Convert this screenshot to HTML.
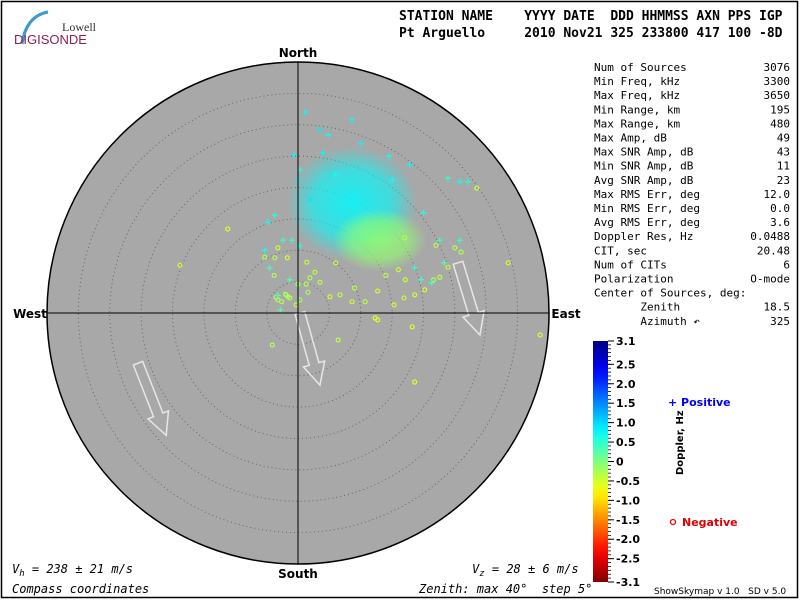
<!DOCTYPE html>
<html><head><meta charset="utf-8"><style>
html,body{margin:0;padding:0;background:#fff;}
svg{display:block;font-family:"DejaVu Sans Mono","Liberation Mono",monospace;}
</style></head><body>
<svg id="chart" width="800" height="600" viewBox="0 0 800 600" xmlns="http://www.w3.org/2000/svg">
<rect x="1.5" y="1.5" width="796" height="596" fill="#fff" stroke="#000" stroke-width="1.5"/>
<g>
<path d="M22,44 Q26,16 48,12" fill="none" stroke="#3a9ad0" stroke-width="3"/>
<text x="62" y="31" font-family="Liberation Serif,serif" font-size="12" fill="#333">Lowell</text>
<text x="14" y="44" font-family="Liberation Sans,sans-serif" font-size="13" fill="#8a2050">DIGISONDE</text>
</g>
<g font-size="13" font-weight="bold" fill="#000">
<text x="399" y="20">STATION&#160;NAME&#160;&#160;&#160;&#160;YYYY&#160;DATE&#160;&#160;DDD&#160;HHMMSS&#160;AXN&#160;PPS&#160;IGP</text>
<text x="399" y="37">Pt&#160;Arguello&#160;&#160;&#160;&#160;&#160;2010&#160;Nov21&#160;325&#160;233800&#160;417&#160;100&#160;-8D</text>
</g>
<g id="plot"></g>
<g id="stats" font-size="11" fill="#000"></g>
<g id="cbar"></g>
<text x="648" y="490" font-family="DejaVu Sans,sans-serif" font-size="10" font-weight="bold" transform="rotate(-90 658 465)">Doppler, Hz</text>
<g font-family="DejaVu Sans,sans-serif" font-size="11" font-weight="bold">
<text x="668" y="406" fill="#0000ff">+ Positive</text>
<circle cx="673" cy="522" r="2.5" fill="none" stroke="#f00" stroke-width="1.3"/>
<text x="682" y="526" fill="#e00000">Negative</text>
</g>
<g font-size="12" font-style="italic">
<text x="12" y="573">V<tspan font-size="9" dy="3">h</tspan><tspan dy="-3"> = 238 ± 21 m/s</tspan></text>
<text x="12" y="593">Compass coordinates</text>
<text x="472" y="573">V<tspan font-size="9" dy="3">z</tspan><tspan dy="-3"> = 28 ± 6 m/s</tspan></text>
<text x="419" y="593">Zenith: max 40°&#160;&#160;step 5°</text>
</g>
<text x="654" y="594" font-family="DejaVu Sans,sans-serif" font-size="9">ShowSkymap v 1.0&#160;&#160;&#160;SD v 5.0</text>
</svg>
<script>
// Sources: east (deg), north (deg), doppler (Hz)
const plusEast  = [1.1,3.5,8.6,4.8,-0.6,0.3,0,25.8,27.1,17.8,15.0,23.9,-3.7,-4.8,-2.4,-1.0,-4.5,0.3,22.6,21.3,23.3,25.8,-1.3,-5.3,19.6,18.6,-3.2,-2.8,4.0,10.0,14.5,6.0,2.0,20.0];
const plusNorth = [32.0,29.2,30.8,28.4,25.2,22.8,21.2,20.9,20.9,23.6,21.2,21.5,15.6,14.5,11.6,11.6,7.2,10.7,11.6,4.8,8.0,11.6,5.3,10.0,5.3,7.2,2.8,0.5,25.5,27.0,25.0,22.0,18.0,16.0];
const plusDop   = [0.8,0.9,0.8,0.7,0.8,0.6,0.9,0.7,0.6,0.8,0.7,0.5,0.6,0.7,0.4,0.5,0.4,0.6,0.5,0.4,0.3,0.5,0.3,0.7,0.4,0.5,0.3,0.3,0.8,0.8,0.7,0.7,0.9,0.6];
const circEast  = [28.5,33.5,-18.8,-11.2,38.6,18.6,-4.1,6.4,18.2,12.3,12.7,21.6,22.6,22.0,26.0,23.9,25.0,12.7,15.3,16.9,10.7,8.6,6.7,3.5,2.7,5.1,1.6,0.3,-1.9,-1.3,-3.2,-2.6,-0.3,-1.6,1.9,1.4,-1.7,1.3,0,-3.7,-3.2,-5.3,-3.8,16.0,17.1,18.6,20.2,9.0,14.0,17.0,6.0,-2.0,-3.5];
const circNorth = [19.9,8.0,7.6,13.4,-3.5,-11.0,-5.1,-4.3,-2.2,-0.8,-1.1,5.3,5.7,10.8,9.7,7.3,10.4,3.5,1.3,2.4,1.8,1.8,2.9,4.9,6.5,2.6,3.3,2.1,2.9,2.4,2.1,1.8,1.3,2.6,5.6,8.1,8.8,4.6,4.6,8.8,10.4,8.9,6.0,6.9,5.3,2.9,3.7,4.0,6.0,12.0,8.0,3.0,2.5];
const circDop   = [-0.4,-0.5,-0.5,-0.6,-0.5,-0.6,-0.3,-0.4,-0.6,-0.6,-0.5,-0.3,-0.4,-0.3,-0.3,-0.4,-0.3,-0.5,-0.5,-0.4,-0.3,-0.5,-0.4,-0.3,-0.3,-0.5,-0.2,-0.2,-0.3,-0.3,-0.2,-0.3,-0.4,-0.3,-0.3,-0.4,-0.5,-0.3,-0.2,-0.3,-0.4,-0.3,-0.3,-0.5,-0.4,-0.5,-0.5,-0.3,-0.3,-0.3,-0.4,-0.2,-0.3];
// Dense clusters: centre east/north, radii (deg), doppler
const blobEast  = [8.6,13.0];
const blobNorth = [17.5,11.6];
const blobRE    = [10.4,7.5];
const blobRN    = [9.0,5.0];
const blobDop   = [0.8,-0.1];
// velocity arrows: start east/north, end east/north
const arrowE0 = [25.5,0.3,-25.5];
const arrowN0 = [8.0,0.0,-8.0];
const arrowE1 = [29.0,3.5,-21.0];
const arrowN1 = [-3.5,-11.5,-19.5];
const statLabels = ["Num of Sources","Min Freq, kHz","Max Freq, kHz","Min Range, km","Max Range, km","Max Amp, dB","Max SNR Amp, dB","Min SNR Amp, dB","Avg SNR Amp, dB","Max RMS Err, deg","Min RMS Err, deg","Avg RMS Err, deg","Doppler Res, Hz","CIT, sec","Num of CITs","Polarization","Center of Sources, deg:","       Zenith","       Azimuth ↶"];
const statValues = ["3076","3300","3650","195","480","49","43","11","23","12.0","0.0","3.6","0.0488","20.48","6","O-mode","","18.5","325"];
const cbTicks = [3.1,2.5,2.0,1.5,1.0,0.5,0,-0.5,-1.0,-1.5,-2.0,-2.5,-3.1];

const NS="http://www.w3.org/2000/svg";
const CX=298, CY=313, R=251, ZMAX=40;
const sx=e=>CX+e/ZMAX*R, sy=n=>CY-n/ZMAX*R;
function mk(tag,attrs,parent){const el=document.createElementNS(NS,tag);for(const k in attrs)el.setAttribute(k,attrs[k]);parent.appendChild(el);return el;}
function jet(v){let t=(3.1-v)/6.2;t=Math.max(0,Math.min(1,t));
  const c=x=>Math.round(Math.max(0,Math.min(1,x))*255);
  return `rgb(${c(1.5-Math.abs(4*t-3))},${c(1.5-Math.abs(4*t-2))},${c(1.5-Math.abs(4*t-1))})`;}
const plot=document.getElementById('plot');
const disk=mk('circle',{cx:CX,cy:CY,r:R,fill:'#a8a8a8',stroke:'#000','stroke-width':1.5},plot);


for(let z=5;z<ZMAX;z+=5){const c=mk('circle',{cx:CX,cy:CY,r:z/ZMAX*R,fill:'none',stroke:'#666','stroke-width':1,'stroke-dasharray':'1 3'},plot);

}
const defs=mk('defs',{},plot);
blobEast.forEach((e,i)=>{const g=mk('radialGradient',{id:'bg'+i},defs);
 mk('stop',{offset:'0','stop-color':jet(blobDop[i]),'stop-opacity':'0.85'},g);
 mk('stop',{offset:'0.6','stop-color':jet(blobDop[i]),'stop-opacity':'0.6'},g);
 mk('stop',{offset:'1','stop-color':jet(blobDop[i]),'stop-opacity':'0'},g);
 const el=mk('ellipse',{cx:sx(e),cy:sy(blobNorth[i]),rx:blobRE[i]/ZMAX*R,ry:blobRN[i]/ZMAX*R,fill:`url(#bg${i})`},plot);
 
 });
circEast.forEach((e,i)=>{const el=mk('circle',{cx:sx(e),cy:sy(circNorth[i]),r:2,fill:'none',stroke:jet(circDop[i]),'stroke-width':1.2},plot);
 
 });
plusEast.forEach((e,i)=>{const x=sx(e),y=sy(plusNorth[i]);
 const el=mk('path',{d:`M${x-3},${y}H${x+3}M${x},${y-3}V${y+3}`,stroke:jet(plusDop[i]),'stroke-width':1.2},plot);
 
 });
arrowE0.forEach((e,i)=>{const x0=sx(e),y0=sy(arrowN0[i]),x1=sx(arrowE1[i]),y1=sy(arrowN1[i]);
 const dx=x1-x0,dy=y1-y0,L=Math.hypot(dx,dy),ux=dx/L,uy=dy/L,px=-uy,py=ux,w=5,hw=11,hl=22;
 const bx=x1-ux*hl,by=y1-uy*hl;
 const pts=[[x0+px*w,y0+py*w],[bx+px*w,by+py*w],[bx+px*hw,by+py*hw],[x1,y1],[bx-px*hw,by-py*hw],[bx-px*w,by-py*w],[x0-px*w,y0-py*w]].map(p=>p.join(',')).join(' ');
 const el=mk('polygon',{points:pts,fill:'none',stroke:'#e6e6e6','stroke-width':1.5},plot);
 
 });
const ax1=mk('line',{x1:CX,y1:CY-R,x2:CX,y2:CY+R,stroke:'#000'},plot);


const ax2=mk('line',{x1:CX-R,y1:CY,x2:CX+R,y2:CY,stroke:'#000'},plot);


[['North',CX,57,'middle'],['South',CX,578,'middle'],['West',30,318,'middle'],['East',566,318,'middle']].forEach(d=>{
 const t=mk('text',{x:d[1],y:d[2],'text-anchor':d[3],'font-family':'DejaVu Sans,sans-serif','font-size':12,'font-weight':'bold'},plot);
 t.textContent=d[0];
 
 });
const st=document.getElementById('stats');
statLabels.forEach((l,i)=>{const y=71+i*14.1;
 const a=mk('text',{x:594,y:y},st);a.textContent=l.replace(/ /g,'\u00a0');
 
 
 const b=mk('text',{x:790,y:y,'text-anchor':'end'},st);b.textContent=statValues[i];
 
 });
const cb=document.getElementById('cbar');
const CB0=341,CB1=582,cby=v=>CB0+(3.1-v)/6.2*(CB1-CB0);
const lg=mk('linearGradient',{id:'cbg',x1:0,y1:0,x2:0,y2:1},defs);
for(let k=0;k<=20;k++){mk('stop',{offset:k/20,'stop-color':jet(3.1-6.2*k/20)},lg);}
const bar=mk('rect',{x:593,y:CB0,width:15,height:CB1-CB0,fill:'url(#cbg)'},cb);


for(let v=-3.1;v<=3.1001;v+=0.1){mk('line',{x1:608,x2:611,y1:cby(v),y2:cby(v),stroke:'#000','stroke-width':0.8},cb);}
cbTicks.forEach(v=>{const y=cby(v);mk('line',{x1:608,x2:614,y1:y,y2:y,stroke:'#000'},cb);
 const t=mk('text',{x:616,y:y+4,'font-family':'DejaVu Sans,sans-serif','font-size':11,'font-weight':'bold'},cb);
 t.textContent=(v===0?'0':v.toFixed(1));
 
 });
</script>
</body></html>
